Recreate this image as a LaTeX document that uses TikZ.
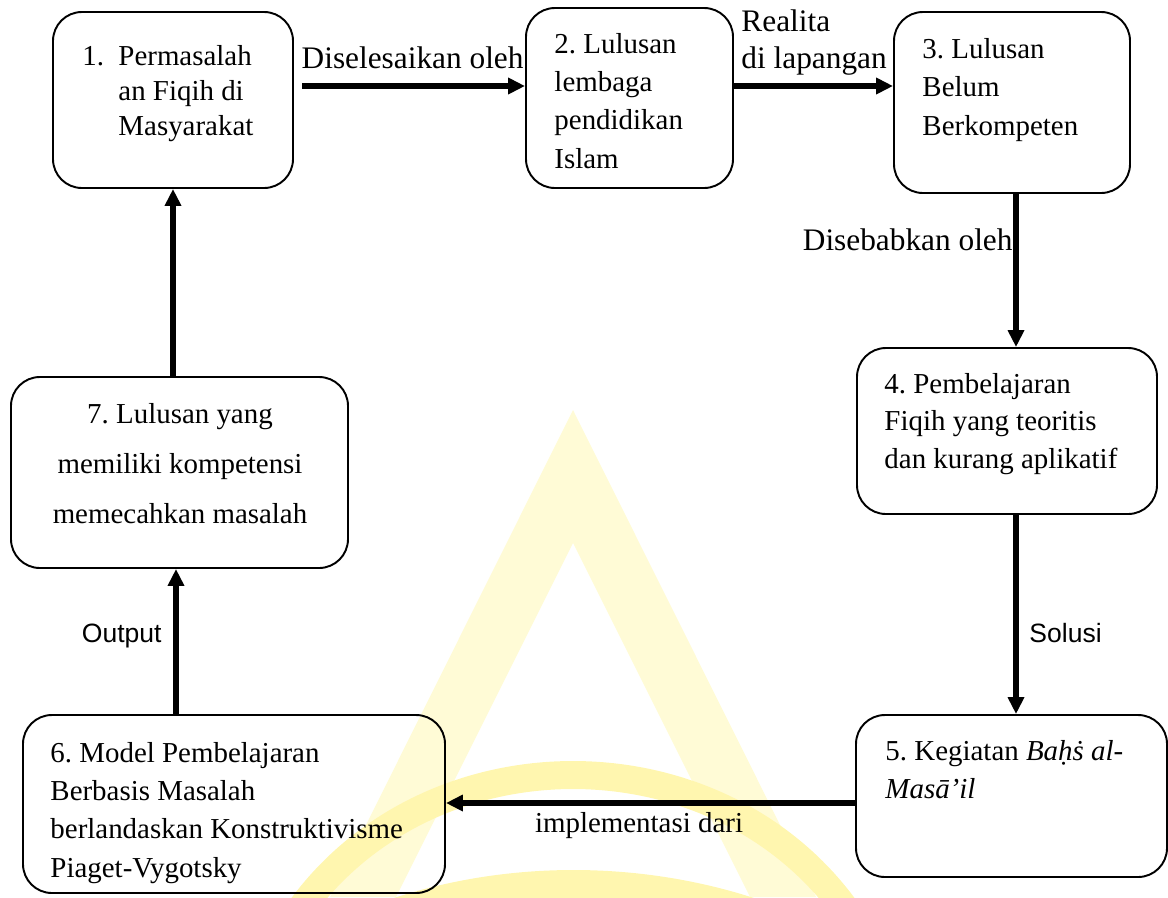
\documentclass[tikz,border=0pt]{standalone}
\usepackage{fontspec}
\setmainfont{Liberation Serif}
\newfontfamily\arialfont{Liberation Sans}
\usetikzlibrary{arrows.meta}

\newlength\pxu
\setlength\pxu{0.415pt}
\definecolor{wmleg}{RGB}{255,251,214}
\definecolor{wmband}{RGB}{255,246,175}

\begin{document}
\frenchspacing
\begin{tikzpicture}[x=0.415pt, y=-0.415pt,
    stage/.style={draw, line width=0.8pt, rounded corners=12pt, inner sep=0pt},
    boxtxt/.style={inner sep=0pt, anchor=base west, align=left, font=\fontsize{12pt}{15.8pt}\selectfont},
    lbl/.style={inner sep=0pt, font=\fontsize{12pt}{15pt}\selectfont},
    biglbl/.style={inner sep=0pt, font=\fontsize{13pt}{15pt}\selectfont},
    sanslbl/.style={inner sep=0pt, font=\arialfont\fontsize{11pt}{13pt}\selectfont},
    arr/.style={line width=2.2pt, -{Triangle[length=7pt,width=6.5pt]}}]
  \useasboundingbox (0,0) rectangle (1168,897);

  % Watermark in the background
  \begin{scope}
    \clip (0,0) rectangle (1168,897);
    \fill[wmleg, even odd rule] (573,410) -- (330,897) -- (816,897) -- cycle
      (573,543) -- (396,897) -- (750,897) -- cycle;
    \draw[wmband, line width=28\pxu] (300,910) .. controls (430,730) and (716,730) .. (846,910);
    \draw[wmband, line width=30\pxu] (250,990) .. controls (430,850) and (716,850) .. (900,990);
  \end{scope}

  % Draw the boxes
  \node[stage, minimum width=240\pxu, minimum height=176\pxu] (b1) at (173,100) {};
  \node[stage, minimum width=207\pxu, minimum height=180\pxu] (b2) at (629.5,98) {};
  \node[stage, minimum width=236\pxu, minimum height=181\pxu] (b3) at (1012,102.5) {};
  \node[stage, minimum width=300\pxu, minimum height=166\pxu] (b4) at (1007,431) {};
  \node[stage, minimum width=311\pxu, minimum height=162\pxu] (b5) at (1011.5,796) {};
  \node[stage, minimum width=422\pxu, minimum height=178\pxu] (b6) at (234,804) {};
  \node[stage, minimum width=337\pxu, minimum height=191\pxu] (b7) at (179.5,472.5) {};

  % Texts in the boxes (placed by the baseline of their last line)
  \node[boxtxt, font=\fontsize{12pt}{14.5pt}\selectfont] (t1) at (82,135)
    {\makebox[36\pxu][l]{1.}Permasalah\\\hspace*{36\pxu}an Fiqih di\\\hspace*{36\pxu}Masyarakat};
  \node[boxtxt] (t2) at (554,168) {2. Lulusan\\lembaga\\pendidikan\\Islam};
  \node[boxtxt] (t3) at (922,135) {3. Lulusan\\Belum\\Berkompeten};
  \node[boxtxt, font=\fontsize{12pt}{15.5pt}\selectfont] (t4) at (884,468)
    {4. Pembelajaran\\Fiqih yang teoritis\\dan kurang aplikatif};
  \node[boxtxt, font=\fontsize{12pt}{15.4pt}\selectfont] (t5) at (885,798)
    {5. Kegiatan \textit{Baḥṡ al-}\\\textit{Masā’il}};
  \node[boxtxt] (t6) at (50,877)
    {6. Model Pembelajaran\\Berbasis Masalah\\berlandaskan Konstruktivisme\\Piaget-Vygotsky};
  \node[boxtxt, anchor=base, align=center, font=\fontsize{12pt}{20.7pt}\selectfont] (t7) at (180,523)
    {7. Lulusan yang\\memiliki kompetensi\\memecahkan masalah};

  % Labels of the arrows
  \node[biglbl, anchor=base east] (l12) at (524,68) {Diselesaikan oleh};
  \node[biglbl, anchor=base west, align=left] (l23) at (741,68) {Realita\\di lapangan};
  \node[biglbl, anchor=base east] (l34) at (1013,250) {Disebabkan oleh};
  \node[sanslbl, anchor=base west] (l45) at (1029,642) {Solusi};
  \node[lbl, anchor=base] (l56) at (639,832) {implementasi dari};
  \node[sanslbl, anchor=base east] (l67) at (162,642) {Output};

  % Draw the arrows
  \coordinate (s12) at (302,86);
  \coordinate (colR) at (1016,0);
  \coordinate (row5) at (0,803);
  \coordinate (col6) at (176,0);
  \coordinate (col7) at (173,0);
  \draw[arr] (s12) -- (b2.west |- s12);
  \draw[arr] (b2.east |- s12) -- (b3.west |- s12);
  \draw[arr] (b3.south -| colR) -- (b4.north -| colR);
  \draw[arr] (b4.south -| colR) -- (b5.north -| colR);
  \draw[arr] (b5.west |- row5) -- (b6.east |- row5);
  \draw[arr] (b6.north -| col6) -- (b7.south -| col6);
  \draw[arr] (b7.north -| col7) -- (b1.south -| col7);
\end{tikzpicture}
\end{document}
